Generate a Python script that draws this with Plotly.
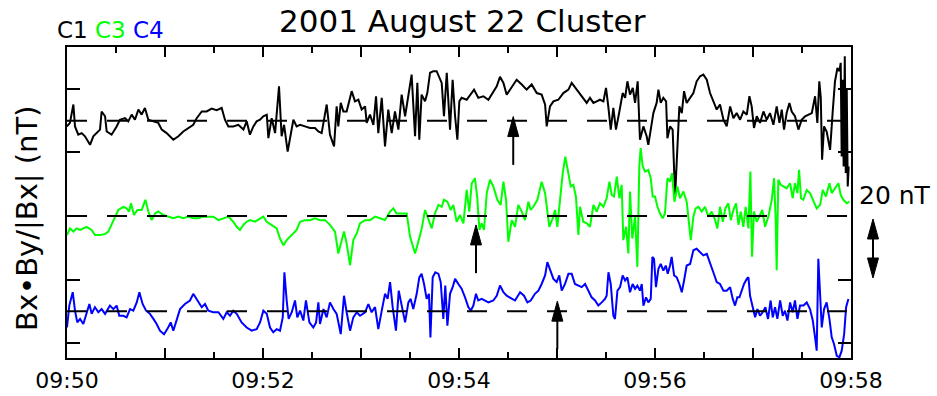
import plotly.graph_objects as go

title_text = "2001 August 22 Cluster"
names = ["C1", "C3", "C4"]
colors = ["#000000", "#00ff00", "#0000ff"]
offsets = [30, 0, -30]  # nT, level of each dashed reference line

# time in seconds after 09:50:00, values in nT relative to the dashed line
c1_t = [0.0, 1.8, 3.9, 4.9, 6.9, 9.0, 11.0, 14.1, 16.1, 18.2, 20.2, 21.2, 23.3, 24.3, 27.3, 30.4, 32.4, 35.5, 37.5, 39.6,
        41.6, 43.7, 45.7, 47.7, 49.8, 52.9, 55.9, 58.0, 61.0, 65.1, 68.2, 71.2, 74.3, 77.3, 79.4, 82.5, 85.5, 88.6, 91.6, 94.7,
        96.7, 98.8, 101.8, 104.9, 108.0, 110.0, 112.0, 114.1, 116.1, 118.2, 120.2, 122.3, 123.3, 125.3, 127.4, 129.8, 131.4, 132.9, 135.1, 136.5,
        138.6, 140.6, 142.7, 145.7, 148.8, 151.8, 153.9, 155.9, 159.0,
        161.0, 163.5, 165.1, 166.1, 167.6, 169.2, 171.2, 174.3, 176.3, 178.4, 180.4, 182.5, 183.5, 185.5, 187.6, 189.2, 190.6, 192.7, 194.7, 196.7,
        198.8, 200.8, 202.9, 204.9, 207.0, 209.0, 211.0, 213.1, 214.5, 215.7, 217.1, 219.2, 220.6, 222.3, 224.3, 226.3, 228.0, 229.4, 230.8, 232.5,
        234.5, 236.1, 237.6, 239.0, 240.2, 241.6, 244.7, 246.7, 249.2, 251.8, 254.9, 258.0, 261.0, 263.1, 265.1, 267.2, 269.2, 272.3, 275.3, 278.4,
        281.4, 284.5, 287.6, 290.6, 292.7, 293.7, 295.7, 297.8, 300.8, 303.9, 307.0, 309.0, 312.1, 315.1,
        318.2, 320.2, 322.3, 324.3, 326.3, 328.4, 330.0, 331.4, 332.9, 334.5, 336.1, 338.2, 340.2, 341.7, 343.1, 344.7, 346.4, 347.8, 349.4, 350.8,
        352.9, 354.9, 355.9, 357.4, 359.0, 361.0, 362.1, 363.5, 365.1, 366.8, 367.6, 369.2, 370.8, 372.3, 373.7, 374.9, 376.4, 377.8, 379.4, 381.5,
        383.5, 385.5, 387.6, 389.6, 391.7, 393.7, 395.7, 397.8, 399.8, 401.9, 403.9, 406.0, 408.0, 410.0, 412.1, 414.1, 416.2, 417.8, 419.2, 420.6,
        422.3, 424.3, 426.4, 428.4, 430.4, 432.5, 434.5, 436.2, 437.6, 439.0, 440.6, 442.3, 443.7, 445.7, 447.8, 449.8, 451.9, 453.9, 456.0, 458.0,
        459.4, 460.6, 461.5, 462.3, 463.5, 465.1, 467.2, 468.8, 470.2, 471.7, 472.9, 473.7, 474.3, 474.9, 475.5, 476.2, 476.8, 477.4, 478.0, 478.6]
c1_v = [-1.8, -0.7, 5.1, -1.8, -4.4, -3.9, -4.9, -7.6, -4.9, -3.9, -2.8, 2.9, 1.4, -3.4, -4.4, -1.8, 0.3, 0.8, -0.2, 1.9,
        0.3, 3.5, 1.9, 4.0, 0.3, -0.2, -0.7, -2.8, -3.9, -6.0, -4.9, -3.4, -2.3, -1.3, 0.8, 2.9, 2.9, 3.8, 3.3, 4.0,
        0.3, -1.8, -1.8, -1.3, -2.8, -0.2, -4.4, -1.8, -0.2, 0.3, 1.4, 1.9, -5.5, 0.8, -3.9, 10.8, -4.9, -1.3, -9.7, -6.0,
        0.3, -1.8, -1.3, -1.8, -2.3, -2.3, -3.4, -3.9, 5.1,
        -4.4, -8.1, 4.5, -1.8, 5.6, 2.9, 2.9, 9.3, 6.1, 6.6, 3.5, 4.5, -0.7, 1.9, -1.3, 7.7, -3.9, 7.2, -8.1, 3.5,
        -3.9, 2.9, -2.8, 8.2, 1.4, 8.7, 14.5, -4.9, 11.9, -6.0, 8.2, 6.1, 8.7, 15.1, 15.6, 15.6, 13.5, 11.9, 1.4, 15.1,
        -2.8, 12.9, 1.4, -6.0, 6.1, 7.2, 6.6, 8.2, 9.8, 7.2, 7.7, 6.6, 9.3, 10.8, 13.8, 11.9, 8.2, 10.8, 12.9, 11.4,
        9.8, 11.4, 8.7, 8.2, 5.1, -1.8, 4.5, 6.1, 6.6, 8.7, 9.8, 11.9, 9.8, 7.7,
        5.6, 7.2, 5.6, 6.1, 6.6, 6.1, 10.3, 4.5, -2.8, 4.0, -2.8, 2.9, 8.7, 7.2, 12.4, 8.2, 10.3, 5.6, 12.4, -6.0,
        -1.8, -4.9, -7.6, -2.8, 2.4, 5.6, 9.8, 5.6, 7.2, 6.1, -5.5, -1.8, -2.8, -23.9, -8.1, 4.5, 2.4, 9.3, 5.6, 7.2,
        8.7, 12.4, 14.0, 14.5, 12.9, 8.7, 6.1, 3.5, 5.1, 0.3, -1.8, 4.5, 0.8, 2.4, 0.3, 2.9, 1.9, 7.7, 4.5, -2.3,
        1.4, -0.7, 2.9, 0.3, 2.4, -1.3, 4.5, -0.7, 3.5, -2.8, 2.4, 5.6, 2.9, 1.4, -2.8, 0.3, 1.4, 1.9, 2.4, 7.7,
        -0.7, 12.4, 7.2, -12.3, -1.8, -3.4, -9.2, 2.9, 12.4, 16.6, 15.6, 18.2, -11.3, 12.9, -14.4, 20.3, -16.5, 9.8, -20.7, -14.4]

c3_t = [0.0, 1.8, 3.9, 5.9, 8.0, 10.0, 12.0, 15.1, 17.1, 20.2, 23.3, 25.3, 28.4, 31.4, 34.5, 36.5, 38.0, 39.2, 41.0, 43.1,
        45.7, 48.0, 49.8, 51.8, 53.9, 55.9, 59.0, 62.0, 65.1, 68.2, 71.2, 74.3, 77.3, 80.4, 83.5, 86.5, 89.6, 92.7, 95.7, 98.8,
        101.8, 103.9, 105.9, 108.0, 110.0, 112.0, 115.1, 118.2, 120.2, 122.3, 125.3, 128.4, 130.4, 132.5, 134.5, 137.6, 140.6, 142.7, 145.7, 148.8,
        151.8, 154.9, 158.0,
        161.0, 164.1, 166.1, 168.2, 169.6, 171.2, 173.3, 175.3, 177.4, 179.4, 182.5, 185.5, 188.6, 191.6, 194.7, 197.8, 199.8, 201.8, 204.9, 208.0,
        210.0, 213.1, 215.1, 217.2, 219.2, 221.2, 223.3, 225.3, 227.4, 229.4, 230.8, 232.9, 234.9, 236.5, 238.6, 240.6, 242.7, 244.7, 246.3, 247.8,
        249.8, 251.2, 252.5, 253.9, 255.3, 257.0, 259.0, 261.0, 263.5, 265.5, 267.2, 268.8, 270.2, 272.3, 274.3, 276.3, 278.4, 280.4, 282.5, 283.9,
        285.5, 288.0, 290.6, 292.7, 294.1, 295.3, 297.4, 298.8, 300.2, 301.9, 303.5, 305.1, 307.0, 308.4, 310.0, 311.6, 313.1, 314.1, 316.1,
        318.2, 320.2, 322.3, 324.3, 326.3, 328.4, 330.4, 332.1, 333.5, 334.9, 336.6, 338.2, 339.6, 340.6, 342.3, 343.7, 344.7, 346.1, 347.8, 349.2,
        350.4, 351.2, 352.5, 353.9, 355.9, 357.4, 358.6, 360.0, 361.5, 363.1, 364.7, 366.1, 367.6, 369.2, 370.4, 371.9, 373.7, 375.3, 377.4, 379.4,
        380.8, 381.9, 383.5, 384.9, 386.6, 388.6, 390.6, 392.7, 394.7, 396.8, 398.2, 399.8, 401.5, 403.1, 404.9, 406.4, 408.0, 409.6, 411.1, 412.5,
        414.1, 415.5, 417.2, 418.4, 419.4, 420.6, 422.3, 423.9, 425.7, 427.4, 429.4, 431.5, 432.9, 433.9, 434.5, 435.5, 437.0, 438.6, 440.6, 442.7,
        444.3, 445.7, 447.2, 448.2, 449.4, 450.8, 452.9, 454.9, 457.0, 459.0, 461.1, 462.7, 464.7, 466.8, 468.2, 470.2, 472.3, 473.7, 475.3, 477.4, 479.0]
c3_v = [-6.0, -3.9, -4.9, -3.9, -4.4, -3.9, -3.4, -4.4, -6.0, -6.0, -5.7, -4.9, -1.3, 1.9, 2.9, 2.4, 1.4, 4.0, 0.3, 1.9,
        1.9, 5.1, 1.4, -1.3, 0.8, 1.4, 0.3, -0.2, -0.7, -0.2, -0.7, -0.2, -0.7, -0.7, -0.2, -0.2, -0.2, -1.3, -0.7, -0.2,
        -1.8, -3.4, -4.4, -2.8, -1.8, -1.3, -1.8, -0.7, -0.2, -1.8, -2.8, -3.9, -7.1, -9.2, -7.6, -6.0, -4.4, -1.8, -1.3, -1.3,
        -0.7, -1.3, -1.3,
        -2.8, -4.9, -11.8, -7.6, -4.9, -8.6, -15.5, -7.6, -5.5, -2.3, -1.3, -1.3, -0.2, -0.7, -1.3, 1.4, 2.4, 0.8, 0.8, 0.8,
        -6.5, -11.8, -8.1, -3.9, 1.9, -1.3, -3.9, 0.8, 3.5, 2.9, 5.1, 4.5, 1.9, 3.5, -1.8, 0.3, -2.3, 8.2, 1.4, 10.3,
        11.9, 5.6, -4.4, -2.3, -4.4, 7.2, 11.4, 9.3, 5.1, 3.5, 10.8, 5.1, -8.1, -1.3, -3.4, 3.5, 1.4, -1.3, 4.5, 1.9,
        2.9, 5.1, 10.8, 7.2, 1.4, -3.4, -0.7, 1.9, -3.4, 6.6, 13.5, 18.7, 13.5, 9.3, 9.8, 6.1, -6.0, 2.9, -1.8,
        -2.3, -3.4, 3.5, 1.4, 4.0, 2.9, 5.6, 10.8, 6.6, 6.1, 12.4, 5.6, 9.8, -7.6, -3.4, -11.8, 7.7, -7.1, -0.2, -16.0,
        15.6, 21.4, 15.6, 14.0, 14.5, 11.9, 6.1, 6.1, 2.9, 0.8, -0.7, 0.8, 11.9, 10.8, 13.5, 4.5, 9.3, 5.6, 7.7, 4.5,
        -2.3, -7.6, -0.2, 2.4, 2.9, 1.4, 2.9, -0.2, 1.4, -1.3, -3.9, 2.9, -1.8, 2.4, 4.0, -1.3, 1.9, 4.0, -2.8, 1.4,
        -3.4, 2.9, -3.9, 14.0, -12.8, 1.4, -1.8, -0.2, 1.9, -3.4, -0.2, 5.1, 11.9, -1.3, -17.1, 11.4, 9.8, 9.3, 8.7, 10.3,
        5.6, 10.3, 7.2, 14.5, 5.6, 5.1, 8.2, 7.2, 4.5, 2.4, 3.5, 8.2, 6.1, 10.3, 7.2, 8.7, 10.3, 6.6, 5.1, 4.0, 4.5]

c4_t = [0.0, 1.4, 3.5, 4.9, 6.3, 8.0, 10.0, 12.0, 13.7, 15.1, 17.1, 19.2, 21.2, 23.3, 26.3, 28.4, 30.4, 32.0, 34.5, 36.5,
        38.6, 40.6, 42.7, 44.3, 46.3, 48.4, 50.8, 52.9, 54.9, 56.9, 59.4, 61.4, 63.5, 65.1, 67.1, 69.2, 72.2, 75.3, 77.3, 79.8,
        82.5, 84.5, 86.5, 89.6, 92.7, 95.7, 97.8, 99.8, 101.8, 103.9, 106.9, 110.0, 113.1, 116.1, 118.2, 120.2, 122.3, 124.3, 126.3, 128.4,
        130.4, 132.1, 133.1, 134.5, 135.7, 137.6, 139.6, 141.0, 142.7, 144.7, 146.3, 148.4, 150.8, 152.5, 153.9, 154.9, 157.0, 159.0,
        161.0, 163.1, 165.1, 167.6, 169.6, 171.2, 173.3, 175.3, 177.4, 179.4, 182.5, 184.5, 186.5, 188.6, 190.6, 192.7, 194.7, 196.3, 197.8, 199.4,
        201.4, 203.1, 204.9, 207.0, 209.0, 210.4, 212.0, 214.1, 215.7, 217.1, 218.6, 220.2, 221.6, 222.5, 223.9, 225.5, 227.4, 228.8, 230.4, 231.6,
        232.9, 234.5, 236.1, 237.6, 239.6, 241.6, 243.7, 245.7, 247.2, 248.8, 250.4, 251.8, 253.9, 255.9, 258.0, 261.0, 263.1, 265.1, 267.2, 269.2,
        272.3, 274.3, 277.4, 279.8, 281.9, 283.9, 286.5, 288.6, 290.6, 292.7, 294.1, 295.7, 297.8, 299.8, 301.4, 302.9, 304.9, 307.0, 309.0, 311.0,
        313.1, 315.1, 317.2, 319.2,
        321.2, 323.3, 325.3, 327.4, 329.4, 330.4, 331.5, 332.9, 334.5, 335.5, 337.0, 338.6, 340.2, 341.7, 343.1, 344.7, 346.3, 347.8, 349.2, 350.8,
        351.9, 352.9, 354.5, 355.9, 357.4, 358.4, 359.4, 360.6, 362.1, 363.5, 365.1, 366.6, 367.8, 369.2, 370.2, 371.7, 373.3, 374.9, 376.4, 377.8,
        379.4, 381.5, 383.5, 385.5, 387.6, 389.6, 391.7, 393.7, 395.7, 397.8, 399.8, 401.9, 403.9, 406.0, 407.6, 409.0, 410.4, 411.7, 413.1, 414.5,
        416.2, 417.2, 418.2, 419.8, 421.3, 422.7, 424.3, 425.9, 427.6, 429.2, 430.8, 432.1, 433.5, 434.9, 436.6, 438.2, 439.6, 441.1, 442.7, 444.3,
        445.7, 447.2, 448.8, 450.9, 452.9, 454.9, 456.6, 458.0, 459.0, 460.0, 461.1, 462.1, 463.5, 465.1, 466.8, 468.2, 469.6, 471.3, 472.9, 474.3,
        475.8, 477.0, 478.4]
c4_v = [-5.1, 1.8, 6.0, 0.2, -3.5, -2.4, -4.0, -0.8, 2.3, -0.8, 1.3, -0.3, 0.7, -0.8, 1.8, 0.7, 1.8, -1.4, -1.4, -1.9,
        0.7, 0.2, 2.8, 6.0, 2.3, 0.2, -0.8, -2.4, -4.0, -6.1, -7.2, -5.6, -3.5, -6.1, -2.9, 0.7, 2.3, 3.4, 5.5, 3.4,
        1.3, 2.3, 0.2, -0.3, -0.3, -2.4, -0.3, -1.4, 0.2, -0.8, -3.5, -5.1, -6.1, -5.6, -3.5, 0.2, -0.8, -5.1, -6.6, -5.6,
        -6.1, -1.9, 12.3, 3.4, -2.4, -0.3, 3.4, -1.9, 0.2, -2.9, 3.4, -3.5, -5.1, -3.5, 2.8, -4.0, 0.7, -1.9,
        2.8, 0.7, -0.8, -7.2, 4.9, -0.3, -6.1, -1.9, -0.3, -1.4, -0.3, 2.3, -0.3, 1.3, -5.6, 0.2, 5.5, 3.9, 9.2, 1.3,
        -6.1, 6.5, 1.8, -3.5, 2.8, 3.9, 0.7, 5.5, 10.7, 11.8, 8.6, 3.9, 5.5, -8.2, 10.7, 12.3, 11.8, 9.2, -2.4, 8.1,
        -4.5, 5.5, 7.6, 10.2, 8.6, 7.1, 4.4, 1.3, 0.2, 1.8, 5.5, 3.4, 3.9, 3.4, 2.8, 3.4, 4.9, 8.1, 6.0, 4.9,
        3.9, 3.4, 6.0, 4.9, 2.8, 3.4, 5.5, 6.5, 8.6, 11.3, 15.5, 13.4, 10.2, 9.2, 11.3, 6.5, 8.6, 11.8, 11.8, 8.6,
        8.1, 7.6, 8.6, 6.5,
        4.4, 3.4, 1.8, 2.8, 3.9, 4.9, 12.3, 8.6, -1.4, -2.4, 6.5, 7.6, 11.3, 9.7, 10.7, 6.0, 8.6, 7.1, 8.1, 6.5,
        8.6, 1.8, 4.4, 2.8, 3.9, 17.1, 16.5, 7.6, 13.4, 14.9, 12.8, 14.4, 11.8, 14.4, 17.1, 11.3, 10.7, 8.6, 6.0, 9.7,
        14.4, 14.9, 19.2, 19.7, 18.6, 17.6, 18.1, 15.5, 12.3, 9.2, 8.6, 6.5, 6.5, 7.6, 3.9, 1.8, 4.4, 4.4, 6.5, 8.6,
        10.2, 10.7, 4.9, 1.8, -1.9, 0.7, -1.4, -0.3, 1.3, -2.4, 3.4, -1.9, 1.3, -2.4, 3.4, -1.4, 0.2, -2.9, 2.8, -0.3,
        3.4, -2.4, 1.8, 1.8, 2.8, 0.7, -2.9, -8.2, -12.4, 16.5, 6.5, -5.1, 0.7, 2.8, -2.4, -8.2, -10.3, -14.0, -14.5, -12.4,
        -7.2, 1.3, 3.9]

# event arrows (time in s after 09:50, tip and tail levels in nT on the plot scale)
arrow_t = [273.2, 250.4, 300.2]
arrow_tip = [31.3, -2.8, -26.8]
arrow_tail = [16.1, -18.0, -41.9]

tick_minutes = list(range(0, 481, 60))
tick_labels = ["09:50", "", "09:52", "", "09:54", "", "09:56", "", "09:58"]
y_ticks = [-40, -20, 20, 40]
scale_label = "20 nT"
y_title = "Bx\u2022By/|Bx| (nT)"

FONT = "DejaVu Sans"
W, H = 937, 396
L, R, T, B = 67, 86, 47, 38
pw, ph = W - L - R, H - T - B
yr = [-44.7, 53.2]
s_per_px = 480.0 / pw
nT_per_px = (yr[1] - yr[0]) / ph

fig = go.Figure()
series = [(c1_t, c1_v), (c3_t, c3_v), (c4_t, c4_v)]
for (t, v), col, off, nm in zip(series, colors, offsets, names):
    fig.add_trace(go.Scatter(x=t, y=[val + off for val in v], mode="lines", name=nm,
                             line=dict(color=col, width=2), showlegend=False, hoverinfo="skip"))

shapes = []
for off in offsets:
    shapes.append(dict(type="line", xref="paper", yref="y", x0=0, x1=1, y0=off, y1=off,
                       line=dict(color="black", width=2, dash="20px,20px"), layer="above"))

hw = 5.5 * s_per_px
hl = 20 * nT_per_px
for t, tip, tail in zip(arrow_t, arrow_tip, arrow_tail):
    shapes.append(dict(type="line", xref="x", yref="y", x0=t, x1=t, y0=tail, y1=tip - hl * 0.5,
                       line=dict(color="black", width=2)))
    shapes.append(dict(type="path", xref="x", yref="y",
                       path=f"M {t - hw} {tip - hl} L {t + hw} {tip - hl} L {t} {tip} Z",
                       fillcolor="black", line=dict(color="black", width=1)))

# scale bar double arrow on the right (paper coords)
def px_x(p):
    return (p - L) / pw

def px_y(p):
    return (H - B - p) / ph

ax_c = 873
top, bot = 219, 278
hwp = 5.5 / pw
hlp = 20 / ph
shapes.append(dict(type="line", xref="paper", yref="paper", x0=px_x(ax_c), x1=px_x(ax_c),
                   y0=px_y(top + 10), y1=px_y(bot - 10), line=dict(color="black", width=2)))
shapes.append(dict(type="path", xref="paper", yref="paper",
                   path=f"M {px_x(ax_c) - hwp} {px_y(top) - hlp} L {px_x(ax_c) + hwp} {px_y(top) - hlp} L {px_x(ax_c)} {px_y(top)} Z",
                   fillcolor="black", line=dict(color="black", width=1)))
shapes.append(dict(type="path", xref="paper", yref="paper",
                   path=f"M {px_x(ax_c) - hwp} {px_y(bot) + hlp} L {px_x(ax_c) + hwp} {px_y(bot) + hlp} L {px_x(ax_c)} {px_y(bot)} Z",
                   fillcolor="black", line=dict(color="black", width=1)))

annotations = [
    dict(text=title_text, xref="paper", yref="paper", x=px_x(463), y=px_y(21), xanchor="center", yanchor="middle",
         showarrow=False, font=dict(family=FONT, size=31, color="black")),
    dict(text=" ".join(f"<span style='color:{c}'>{n}</span>" for n, c in zip(names, colors)),
         xref="paper", yref="paper", x=px_x(55), y=px_y(30), xanchor="left", yanchor="middle",
         showarrow=False, font=dict(family=FONT, size=23, color="black")),
    dict(text=y_title, xref="paper", yref="paper", x=px_x(27), y=px_y(218), xanchor="center", yanchor="middle",
         textangle=-90, showarrow=False, font=dict(family=FONT, size=29, color="black")),
    dict(text=scale_label, xref="paper", yref="paper", x=px_x(857), y=px_y(195), xanchor="left", yanchor="middle",
         showarrow=False, font=dict(family=FONT, size=25, color="black")),
]

fig.update_layout(
    width=W, height=H, margin=dict(l=L, r=R, t=T, b=B),
    paper_bgcolor="white", plot_bgcolor="white",
    shapes=shapes, annotations=annotations,
    xaxis=dict(range=[0, 480], tickmode="array", tickvals=tick_minutes, ticktext=tick_labels,
               ticks="inside", ticklen=10, tickwidth=2, tickcolor="black", ticklabelstandoff=2,
               minor=dict(dtick=30, tick0=0, ticks="inside", ticklen=6, tickwidth=1.5, tickcolor="black"),
               showline=True, linewidth=2, linecolor="black", mirror="ticks",
               showgrid=False, zeroline=False, automargin=False,
               tickfont=dict(family=FONT, size=22, color="black")),
    yaxis=dict(range=yr, tickmode="array", tickvals=y_ticks, showticklabels=False,
               ticks="inside", ticklen=13, tickwidth=2, tickcolor="black",
               showline=True, linewidth=2, linecolor="black", mirror="ticks",
               showgrid=False, zeroline=False, automargin=False),
)

fig.write_html("out.html", config={"displayModeBar": False},
               post_script="document.body.style.margin='0';document.body.style.overflow='hidden';")
